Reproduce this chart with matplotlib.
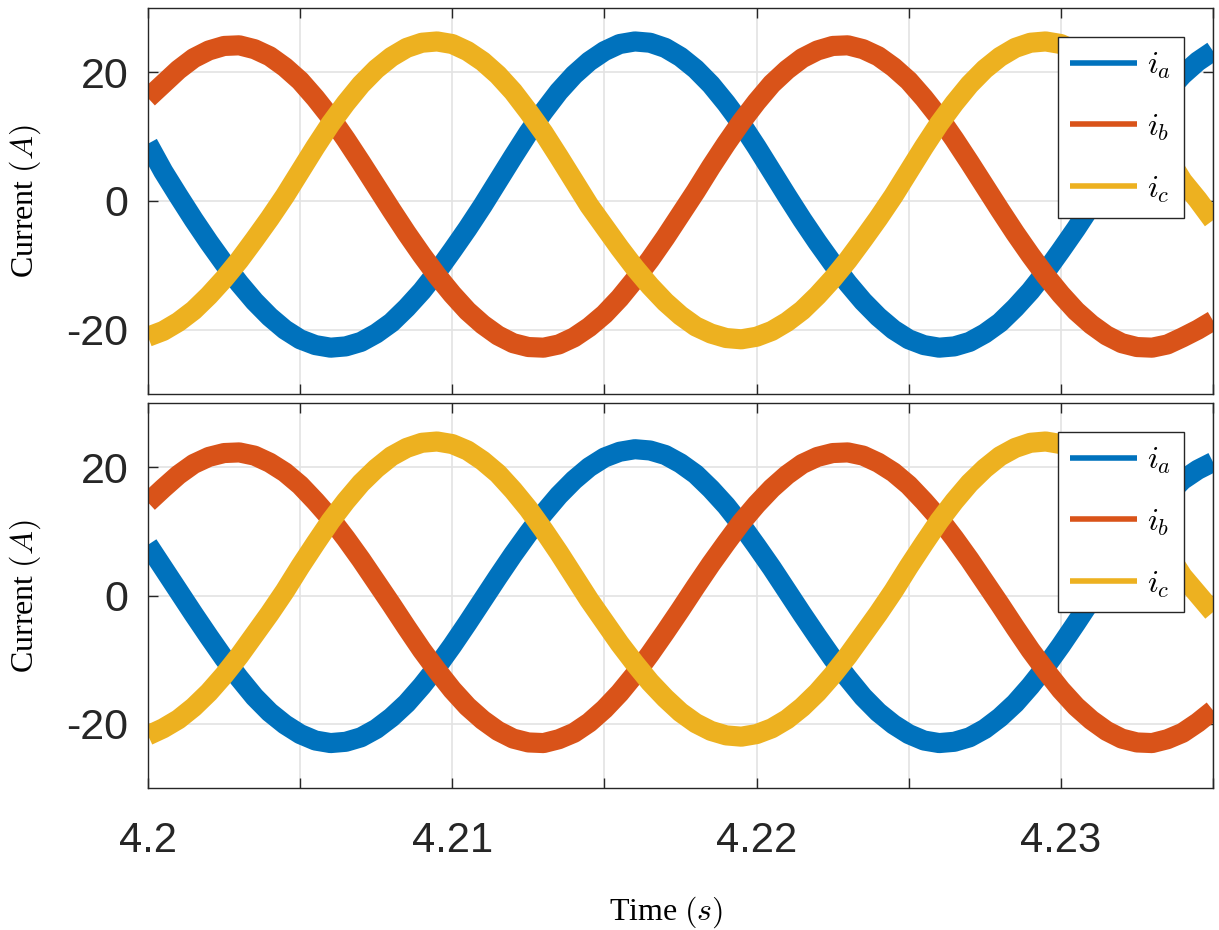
import numpy as np
import matplotlib
matplotlib.use("Agg")
import matplotlib.pyplot as plt

plt.rcParams['mathtext.fontset'] = 'cm'

# time samples (s): 4.2000 ... 4.2350 every 0.5 ms
t_start, t_step, n_samples = 4.2, 0.0005, 71
time = t_start + t_step * np.arange(n_samples)

# top panel currents (A)
ia_top = [8.9, 4.6, 0.8, -2.9, -6.4, -9.7, -12.8, -15.6, -18.0, -20.0,
          -21.5, -22.4, -22.8, -22.6, -21.9, -20.6, -18.9, -16.6, -14.0, -11.0,
          -7.7, -4.3, -0.7, 3.1, 6.9, 10.6, 13.9, 17.0, 19.6, 21.7,
          23.3, 24.4, 24.8, 24.6, 23.8, 22.4, 20.5, 18.1, 15.2, 12.0,
          8.4, 4.6, 0.8, -2.9, -6.4, -9.7, -12.8, -15.6, -18.0, -20.0,
          -21.5, -22.4, -22.8, -22.6, -21.9, -20.6, -18.9, -16.6, -14.0, -11.0,
          -7.7, -4.3, -0.7, 3.1, 6.9, 10.6, 13.9, 17.0, 19.6, 21.7, 23.3]
ib_top = [16.0, 18.2, 20.4, 22.2, 23.4, 24.1, 24.2, 23.6, 22.5, 20.8,
          18.7, 16.0, 13.0, 9.6, 6.0, 2.3, -1.4, -5.0, -8.4, -11.6,
          -14.5, -17.1, -19.2, -20.9, -22.1, -22.7, -22.8, -22.3, -21.2, -19.6,
          -17.6, -15.1, -12.2, -9.1, -5.7, -2.1, 1.5, 5.3, 8.9, 12.3,
          15.4, 18.2, 20.4, 22.2, 23.4, 24.1, 24.2, 23.6, 22.5, 20.8,
          18.7, 16.0, 13.0, 9.6, 6.0, 2.3, -1.4, -5.0, -8.4, -11.6,
          -14.5, -17.1, -19.2, -20.9, -22.1, -22.7, -22.8, -22.3, -21.2, -20.0, -18.6]
ic_top = [-21.1, -20.2, -18.8, -17.0, -14.7, -12.1, -9.2, -6.0, -2.7, 0.8,
          4.6, 8.4, 12.0, 15.2, 18.1, 20.5, 22.4, 23.8, 24.6, 24.8,
          24.4, 23.3, 21.7, 19.6, 17.0, 13.9, 10.6, 6.9, 3.1, -0.7,
          -4.0, -7.3, -10.4, -13.2, -15.7, -17.8, -19.5, -20.6, -21.3, -21.5,
          -21.1, -20.2, -18.8, -17.0, -14.7, -12.1, -9.2, -6.0, -2.7, 0.8,
          4.6, 8.4, 12.0, 15.2, 18.1, 20.5, 22.4, 23.8, 24.6, 24.8,
          24.4, 23.3, 21.7, 19.6, 17.0, 13.9, 10.6, 6.9, 3.1, 0.2, -3.0]

# bottom panel currents (A)
ia_bot = [7.9, 4.3, 0.7, -2.9, -6.4, -9.8, -12.9, -15.8, -18.2, -20.1,
          -21.6, -22.6, -23.0, -22.8, -22.1, -20.8, -19.0, -16.8, -14.1, -11.1,
          -7.8, -4.3, -0.7, 2.9, 6.4, 9.7, 12.8, 15.6, 18.0, 20.0,
          21.5, 22.4, 22.8, 22.6, 21.9, 20.6, 18.9, 16.6, 14.0, 11.0,
          7.7, 4.3, 0.7, -2.9, -6.4, -9.8, -12.9, -15.8, -18.2, -20.1,
          -21.6, -22.6, -23.0, -22.8, -22.1, -20.8, -19.0, -16.8, -14.1, -11.1,
          -7.8, -4.3, -0.7, 2.9, 6.4, 9.7, 12.8, 15.6, 18.0, 19.6, 20.8]
ib_bot = [14.5, 16.7, 18.8, 20.5, 21.6, 22.2, 22.3, 21.8, 20.7, 19.2,
          17.2, 14.7, 12.0, 8.9, 5.6, 2.1, -1.4, -5.0, -8.5, -11.7,
          -14.7, -17.3, -19.4, -21.1, -22.3, -22.9, -23.0, -22.4, -21.4, -19.8,
          -17.7, -15.2, -12.3, -9.1, -5.7, -2.2, 1.4, 4.9, 8.2, 11.4,
          14.2, 16.7, 18.8, 20.5, 21.6, 22.2, 22.3, 21.8, 20.7, 19.2,
          17.2, 14.7, 12.0, 8.9, 5.6, 2.1, -1.4, -5.0, -8.5, -11.7,
          -14.7, -17.3, -19.4, -21.1, -22.3, -22.9, -23.0, -22.4, -21.4, -19.8, -17.9]
ic_bot = [-21.8, -20.7, -19.3, -17.4, -15.1, -12.4, -9.4, -6.1, -2.8, 0.7,
          4.5, 8.1, 11.6, 14.7, 17.5, 19.8, 21.7, 23.0, 23.8, 24.0,
          23.6, 22.6, 21.0, 19.0, 16.4, 13.5, 10.2, 6.7, 3.0, -0.7,
          -4.1, -7.5, -10.6, -13.5, -16.0, -18.2, -19.9, -21.1, -21.8, -22.0,
          -21.6, -20.7, -19.3, -17.4, -15.1, -12.4, -9.4, -6.1, -2.8, 0.7,
          4.5, 8.1, 11.6, 14.7, 17.5, 19.8, 21.7, 23.0, 23.8, 24.0,
          23.6, 22.6, 21.0, 19.0, 16.4, 13.5, 10.2, 6.7, 3.0, 0.2, -2.6]

labels = [r'$i_a$', r'$i_b$', r'$i_c$']
colors = ['#0072BD', '#D95319', '#EDB120']
xticks = [4.200, 4.205, 4.210, 4.215, 4.220, 4.225, 4.230, 4.235]
xticklabels = ['4.2', '', '4.21', '', '4.22', '', '4.23', '']
yticks = [-20, 0, 20]
yticklabels = ['-20', '0', '20']

fig = plt.figure(figsize=(12.19, 9.30), dpi=100)
W, H = 1219, 930
ax1 = fig.add_axes([148 / W, 1 - 394 / H, 1065 / W, 386 / H])
ax2 = fig.add_axes([148 / W, 1 - 788 / H, 1065 / W, 385 / H])

dark = '#262626'
for ax, series in ((ax1, (ia_top, ib_top, ic_top)), (ax2, (ia_bot, ib_bot, ic_bot))):
    lines = []
    for y, c, lab in zip(series, colors, labels):
        ln, = ax.plot(time, y, color=c, lw=14.5, solid_joinstyle='round',
                      solid_capstyle='butt', label=lab)
        lines.append(ln)
    ax.set_xlim(4.2, 4.235)
    ax.set_ylim(-30, 30)
    ax.set_xticks(xticks)
    ax.set_yticks(yticks)
    ax.set_yticklabels(yticklabels, fontfamily='Liberation Sans', fontsize=31, color=dark)
    ax.grid(True, color='#e3e3e3', lw=1.2)
    ax.set_axisbelow(True)
    ax.tick_params(direction='in', length=7, width=1.0, top=True, right=True,
                   colors=dark, pad=14)
    for sp in ax.spines.values():
        sp.set_color(dark)
        sp.set_linewidth(1.0)
    leg = ax.legend(handles=lines, loc='upper right',
                    bbox_to_anchor=((1184 - 148) / 1065, 1 - 29 / 386),
                    borderaxespad=0, fontsize=23, frameon=True, fancybox=False,
                    framealpha=1, edgecolor=dark, handlelength=2.1,
                    handletextpad=0.3, labelspacing=0.95, borderpad=0.4)
    leg.get_frame().set_linewidth(1.0)
    for h in leg.legend_handles:
        h.set_linewidth(4)

ax1.set_xticklabels([])
ax2.set_xticklabels(xticklabels, fontfamily='Liberation Sans', fontsize=30, color=dark)
ax2.tick_params(axis='x', pad=24)

for yc in (201, 596):
    fig.text(25 / W, 1 - yc / H, r'Current $(A)$', rotation=90, ha='center', va='center',
             fontfamily='Liberation Serif', fontsize=23, color='black')
fig.text(666 / W, 1 - 912 / H, r'Time $(s)$', ha='center', va='center',
         fontfamily='Liberation Serif', fontsize=23, color='black')

fig.savefig('out.png', dpi=100, facecolor='white')
